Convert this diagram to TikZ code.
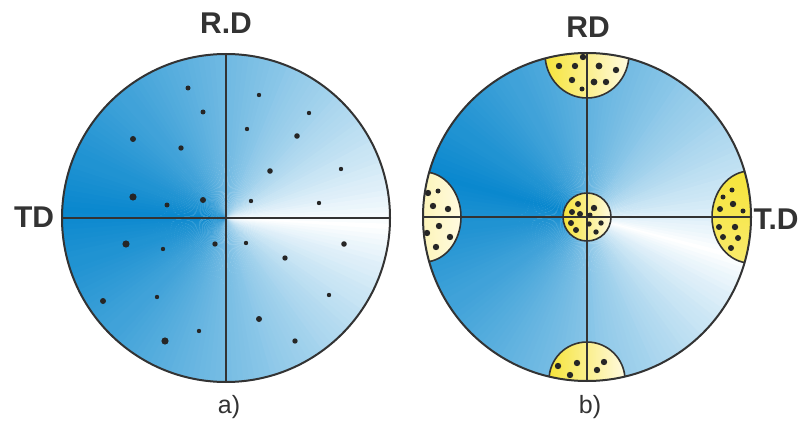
\documentclass[tikz,border=0pt]{standalone}
\usepackage{fontspec}
\setsansfont{Liberation Sans}
\usepackage{tikz}
\usepackage{xcolor}

\definecolor{azulforte}{RGB}{10,136,206}
\definecolor{amarelo}{RGB}{246,228,58}
\definecolor{creme}{RGB}{255,250,224}
\definecolor{contorno}{RGB}{51,51,51}

\tikzset{
  rotulo/.style={font=\sffamily\bfseries\fontsize{30}{30}\selectfont, text=contorno, inner sep=0pt},
  legenda/.style={font=\sffamily\fontsize{25}{25}\selectfont, text=contorno, inner sep=0pt},
  eixo/.style={draw=contorno, line width=1.5pt},
  borda/.style={draw=contorno, line width=2pt},
  calota/.style={draw=contorno, line width=1.6pt},
  ponto/.style={fill=black!85}
}

% degrade conico: #1 centro, #2 direcao do branco
\newcommand{\gradcone}[2]{%
  \foreach \a in {0,2,...,358}{
    \pgfmathtruncatemacro\p{100*pow(abs(mod(\a+1-#2+540,360)-180)/180,0.8)}
    \fill[azulforte!\p!white] (#1) -- ++(\a:164.5) arc[start angle=\a, end angle=\a+2.4, radius=164.5] -- cycle;
  }}

\begin{document}
\begin{tikzpicture}[x=1pt, y=-1pt]
        \useasboundingbox (0,0) rectangle (803,425);
        \coordinate (ca) at (226,218);
        \coordinate (cb) at (587,217);

        % Circulo a)
        \gradcone{ca}{3}
        \draw[eixo] (ca) ++(-164,0) -- ++(328,0);
        \draw[eixo] (ca) ++(0,-164) -- ++(0,328);
        \foreach \x/\y/\r in {188/88/2.5, 203/112/2.5, 133/139/3, 181/148/2.7, 133/197/3.6,
            167/205/2.5, 203/200/3, 259/95/2.2, 309/113/2.2, 247/129/2.2, 297/136/2.8, 270/171/2.8,
            341/169/2.2, 251/201/2.2, 319/203/2.2, 126/244/3.6, 163/249/2.2, 215/244/2.7, 246/243/2.2,
            344/244/2.8, 285/258/2.7, 103/301/3, 157/297/2.2, 329/295/2.2, 259/319/3,
            199/331/2.2, 165/341/3.6, 295/341/2.7}
            \fill[ponto] (\x,\y) circle[radius=\r];
        \draw[borda] (ca) circle[radius=164];

        % Circulo b)
        \gradcone{cb}{15}
        \begin{scope}
            \clip (cb) circle[radius=164];
            \shade[left color=amarelo, right color=creme] (587,54) ellipse[x radius=42, y radius=44];
            \draw[calota] (587,54) ellipse[x radius=42, y radius=44];
            \shade[left color=amarelo, right color=creme] (587,380) ellipse[x radius=38, y radius=38];
            \draw[calota] (587,380) ellipse[x radius=38, y radius=38];
            \shade[left color=amarelo!45!creme, right color=creme] (424,217) ellipse[x radius=37, y radius=45];
            \draw[calota] (424,217) ellipse[x radius=37, y radius=45];
            \shade[top color=amarelo, bottom color=amarelo!70!creme] (750,217) ellipse[x radius=38, y radius=46];
            \draw[calota] (750,217) ellipse[x radius=38, y radius=46];
        \end{scope}
        \shade[left color=amarelo, right color=creme] (cb) circle[radius=24];
        \draw[calota] (cb) circle[radius=24];
        \draw[eixo] (cb) ++(-164,0) -- ++(328,0);
        \draw[eixo] (cb) ++(0,-164) -- ++(0,328);
        \foreach \x/\y/\r in {583/57/3.2, 559/66/3.2, 575/66/3.2, 599/66/3.4, 616/70/3.2, 572/80/3.2,
            594/82/3.4, 606/82/3.2, 582/89/2.5,
            558/366/3.2, 577/363/3.2, 570/375/3.2, 604/362/3.2, 597/370/3.2,
            732/190/2.5, 723/197/2.5, 733/204/3.2, 720/209/3, 743/211/2.5, 719/227/3,
            735/227/3.2, 723/237/3, 738/238/3, 731/248/3,
            428/193/3.2, 438/191/2.5, 433/206/3.2, 448/209/3.2, 439/226/3.2, 427/233/3.2, 450/237/3.2, 436/247/3.2,
            578/204/3, 572/212/3, 580/214/3, 594/208/3.2, 590/215/2.5, 571/223/3,
            576/230/3, 589/224/2.7, 601/223/2.7, 596/232/2.7}
            \fill[ponto] (\x,\y) circle[radius=\r];
        \draw[borda] (cb) circle[radius=164];

        % Rotulos
        \node[rotulo] (rda) at (226,23) {R.D};
        \node[rotulo] (tda) at (34,217) {TD};
        \node[rotulo] (rdb) at (588,27) {RD};
        \node[rotulo] (tdb) at (776,219) {T.D};
        \node[legenda] (la) at (229,407) {a)};
        \node[legenda] (lb) at (590,407) {b)};
    \end{tikzpicture}
\end{document}
